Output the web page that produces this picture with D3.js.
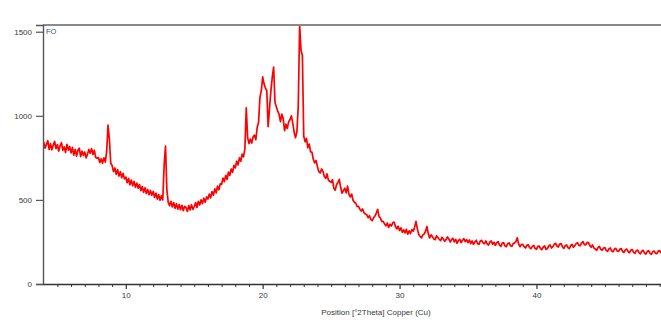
<!DOCTYPE html>
<html>
<head>
<meta charset="utf-8">
<script src="https://cdn.jsdelivr.net/npm/d3@7/dist/d3.min.js"></script>
<style>
  html, body { margin: 0; padding: 0; background: #fff; }
  svg { display: block; }
  text { font-family: "Liberation Sans", Arial, sans-serif; }
</style>
</head>
<body>
<svg id="chart" width="661" height="330"></svg>
<script>
// Continuous 2θ scan: start angle and step size (degrees)
const scanStart = 4.0;
const scanStep = 0.1;

// Measured intensities (counts), one row per degree of 2θ
const counts = [
  845, 808, 830, 852, 800, 835, 798, 826, 848, 805,       // 4
  828, 790, 822, 840, 795, 815, 782, 830, 796, 818,       // 5
  780, 812, 766, 800, 760, 795, 808, 758, 790, 765,       // 6
  785, 750, 772, 800, 778, 805, 770, 795, 752, 748,       // 7
  752, 722, 745, 718, 750, 725, 785, 945, 860, 718,       // 8
  705, 668, 690, 652, 680, 642, 668, 632, 658, 625,       // 9
  636, 602, 628, 590, 618, 584, 610, 575, 600, 570,       // 10
  592, 555, 580, 545, 572, 538, 562, 530, 556, 528,       // 11
  550, 515, 540, 505, 532, 498, 525, 500, 705, 820,       // 12
  560, 485, 465, 492, 458, 484, 450, 478, 445, 472,       // 13
  442, 468, 436, 462, 455, 432, 466, 440, 472, 444,       // 14
  460, 484, 455, 492, 470, 500, 478, 510, 486, 518,       // 15
  505, 535, 512, 550, 528, 566, 542, 582, 560, 596,       // 16
  592, 630, 608, 646, 622, 666, 646, 684, 664, 706,       // 17
  690, 730, 708, 750, 730, 772, 756, 805, 1047, 870,      // 18
  835, 862, 838, 875, 885, 858, 932, 962, 1110, 1150,     // 19
  1231, 1190, 1165, 1150, 935, 1045, 1150, 1230, 1290, 1080, // 20
  1052, 1028, 1008, 965, 1010, 982, 912, 950, 925, 965,   // 21
  978, 1000, 955, 902, 870, 905, 1060, 1540, 1390, 1360,  // 22
  880, 845, 866, 810, 832, 786, 785, 740, 720, 735,       // 23
  698, 668, 660, 684, 672, 640, 628, 655, 618, 610,       // 24
  604, 620, 568, 558, 592, 604, 622, 572, 540, 555,       // 25
  570, 542, 582, 535, 518, 535, 498, 486, 480, 462,       // 26
  462, 444, 434, 446, 424, 416, 412, 394, 406, 384,       // 27
  376, 394, 404, 422, 444, 402, 392, 372, 372, 358,       // 28
  346, 362, 336, 356, 344, 364, 368, 342, 328, 344,       // 29
  318, 334, 308, 322, 304, 326, 296, 316, 300, 324,       // 30
  314, 338, 372, 328, 296, 284, 274, 292, 298, 314,       // 31
  342, 298, 274, 292, 282, 268, 264, 286, 276, 266,       // 32
  258, 278, 266, 254, 264, 280, 268, 250, 264, 272,       // 33
  250, 266, 242, 258, 266, 246, 260, 270, 252, 264,       // 34
  246, 262, 240, 256, 236, 250, 260, 240, 236, 256,       // 35
  260, 244, 240, 256, 238, 232, 250, 256, 236, 248,       // 36
  230, 246, 252, 232, 224, 242, 246, 226, 222, 240,       // 37
  244, 228, 224, 240, 244, 252, 274, 238, 222, 234,       // 38
  236, 222, 214, 230, 234, 216, 210, 224, 230, 212,       // 39
  206, 224, 226, 210, 204, 220, 226, 206, 210, 226,       // 40
  232, 214, 222, 236, 242, 226, 220, 238, 240, 222,       // 41
  212, 228, 232, 216, 210, 228, 236, 218, 228, 240,       // 42
  246, 230, 228, 244, 252, 234, 232, 248, 246, 228,       // 43
  218, 232, 214, 208, 200, 216, 224, 206, 200, 214,       // 44
  216, 200, 194, 210, 214, 196, 192, 208, 212, 196,       // 45
  194, 208, 210, 192, 188, 204, 208, 192, 186, 202,       // 46
  204, 188, 182, 198, 202, 186, 180, 196, 200, 184,       // 47
  178, 194, 198, 182, 176, 192, 196, 182, 180, 196,       // 48
  198, 184                                                // 49
];

const yTicks = [0, 500, 1000, 1500];
const xMajorTicks = [10, 20, 30, 40];
const xMinorTicks = [5, 6, 7, 8, 9, 11, 12, 13, 14, 15, 16, 17, 18, 19,
  21, 22, 23, 24, 25, 26, 27, 28, 29, 31, 32, 33, 34, 35, 36, 37, 38, 39,
  41, 42, 43, 44, 45, 46, 47, 48, 49];
const xTitle = "Position [°2Theta] Copper (Cu)";
const scanLabel = "FO";

const svg = d3.select("#chart");
const W = 661, H = 330;
const plot = { left: 43, right: 661, top: 25, bottom: 284 };

const x = d3.scaleLinear().domain([3.95, 49.1]).range([plot.left, plot.right]);
const y = d3.scaleLinear().domain([0, 1540]).range([plot.bottom, plot.top]);

svg.append("rect").attr("width", W).attr("height", H).attr("fill", "#fff");

svg.append("clipPath").attr("id", "plotClip")
  .append("rect")
  .attr("x", plot.left).attr("y", plot.top - 1)
  .attr("width", plot.right - plot.left).attr("height", plot.bottom - plot.top + 1);

const scan = counts.map((c, i) => ({ a: +(scanStart + i * scanStep).toFixed(2), c }));

const line = d3.line()
  .x(d => x(d.a))
  .y(d => y(d.c));

svg.append("path")
  .datum(scan)
  .attr("clip-path", "url(#plotClip)")
  .attr("fill", "none")
  .attr("stroke", "#ff0000")
  .attr("stroke-width", 1.7)
  .attr("stroke-linejoin", "round")
  .attr("d", line);

// top border of the plot frame
svg.append("line")
  .attr("x1", plot.left).attr("x2", plot.right)
  .attr("y1", plot.top).attr("y2", plot.top)
  .attr("stroke", "#8a8a8a").attr("stroke-width", 2);

// y axis
const yAxis = svg.append("g")
  .attr("transform", `translate(${plot.left},0)`)
  .call(d3.axisLeft(y).tickValues(yTicks).tickSize(7).tickPadding(4).tickFormat(d3.format("d")));
yAxis.select(".domain").attr("stroke", "#555").attr("stroke-width", 1.4);
yAxis.selectAll(".tick line").attr("stroke", "#555").attr("stroke-width", 1.2);
yAxis.selectAll(".tick text")
  .attr("fill", "#3a3a3a").style("font-size", "8px")
  .style("font-family", "'Liberation Sans', Arial, sans-serif");

// x axis: minor ticks every degree, labelled majors every ten
const xMinor = svg.append("g")
  .attr("transform", `translate(0,${plot.bottom})`)
  .call(d3.axisBottom(x).tickValues(xMinorTicks).tickSize(3).tickFormat(""));
xMinor.select(".domain").remove();
xMinor.selectAll(".tick line").attr("stroke", "#333").attr("stroke-width", 1);

const xAxis = svg.append("g")
  .attr("transform", `translate(0,${plot.bottom})`)
  .call(d3.axisBottom(x).tickValues(xMajorTicks).tickSize(5).tickPadding(3).tickSizeOuter(0).tickFormat(d3.format("d")));
xAxis.select(".domain").attr("stroke", "#333").attr("stroke-width", 1.4);
xAxis.selectAll(".tick line").attr("stroke", "#333").attr("stroke-width", 1.2);
xAxis.selectAll(".tick text")
  .attr("fill", "#3a3a3a").style("font-size", "8px")
  .style("font-family", "'Liberation Sans', Arial, sans-serif");

// axis title
svg.append("text")
  .attr("x", 376).attr("y", 315)
  .attr("text-anchor", "middle")
  .attr("fill", "#3a3a3a")
  .style("font-size", "8px")
  .text(xTitle);

// scan label in the plot corner
svg.append("text")
  .attr("x", 46).attr("y", 34)
  .attr("fill", "#2f4f8f")
  .style("font-size", "7.5px")
  .text(scanLabel);
</script>
</body>
</html>
